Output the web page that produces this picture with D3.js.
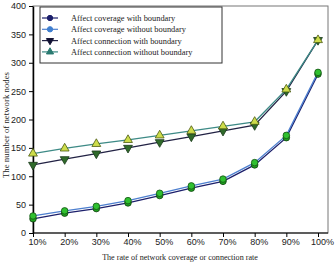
<!DOCTYPE html>
<html><head><meta charset="utf-8">
<script src="https://cdn.jsdelivr.net/npm/d3@7"></script>
<style>body{margin:0;background:#fff}svg{display:block}</style>
</head><body>
<svg id="c" width="336" height="264"></svg>
<script>
const categories = ["10%","20%","30%","40%","50%","60%","70%","80%","90%","100%"];
const coverageWith = [25,35,43,53,66,79,91,120,168,280];
const coverageWithout = [30,39,47,57,70,83,95,124,172,283];
const connectionWith = [120,130,140,150,160,170,180,190,250,340];
const connectionWithout = [140,149,157,164,172,180,188,196,253,340];
const yTicks = [0,50,100,150,200,250,300,350,400];
const seriesNames = ["Affect coverage with boundary","Affect coverage without boundary","Affect connection with boundary","Affect connection without boundary"];

const series = [
  {name:seriesNames[0], values:coverageWith, line:"#1c1f6b", sym:d3.symbolCircle, fill:"#1fa31f", stroke:"#0d3d0d", legFill:"#1c1f6b"},
  {name:seriesNames[1], values:coverageWithout, line:"#4d7fcf", sym:d3.symbolCircle, fill:"#2fc02f", stroke:"#145214", legFill:"#3f7fcf"},
  {name:seriesNames[2], values:connectionWith, line:"#222244", sym:"down", fill:"#2f6a2a", stroke:"#1a3a1a", legFill:"#111133"},
  {name:seriesNames[3], values:connectionWithout, line:"#3d8a86", sym:d3.symbolTriangle, fill:"#cddc4a", stroke:"#4a5a10", legFill:"#2a7a70"}
];

const svg = d3.select("#c");
const L=33, R=328, T=6, B=233;
const x = d3.scalePoint().domain(categories).range([L, 318]);
const y = d3.scaleLinear().domain([0,400]).range([B, T]);

svg.append("rect").attr("x",L).attr("y",T).attr("width",R-L).attr("height",B-T)
  .attr("fill","none").attr("stroke","#777").attr("stroke-width",1);

const ya = svg.append("g").attr("transform",`translate(${L},0)`)
  .call(d3.axisLeft(y).tickValues(yTicks).tickSize(4).tickSizeOuter(0));
ya.select(".domain").attr("stroke","#000").attr("stroke-width",1.5);
ya.selectAll("text").attr("font-family","Liberation Sans, Arial, sans-serif").attr("font-size",9).attr("fill","#222");
const xa = svg.append("g").attr("transform",`translate(0,${B})`)
  .call(d3.axisBottom(x).tickSize(4).tickSizeOuter(0));
xa.select(".domain").attr("stroke","#000").attr("stroke-width",1.2).attr("d",`M${L},0H${R}`);
xa.selectAll("text").attr("font-family","Liberation Sans, Arial, sans-serif").attr("font-size",9).attr("fill","#222").attr("dx",4).attr("dy",5);

const line = d3.line().x((d,i)=>x(categories[i])).y(d=>y(d));
function symPath(s,size){
  if(s==="down") return d3.symbol(d3.symbolTriangle,size)();
  return d3.symbol(s,size)();
}
series.forEach(s=>{
  svg.append("path").datum(s.values).attr("d",line).attr("fill","none").attr("stroke",s.line).attr("stroke-width",1.3);
});
series.forEach(s=>{
  svg.selectAll(null).data(s.values).enter().append("path")
    .attr("d",symPath(s.sym,34))
    .attr("transform",(d,i)=>`translate(${x(categories[i])},${y(d)})`+(s.sym==="down"?" rotate(180)":""))
    .attr("fill",s.fill).attr("stroke",s.stroke).attr("stroke-width",0.8);
});

const lg = svg.append("g");
lg.append("rect").attr("x",40).attr("y",7).attr("width",182).attr("height",56)
  .attr("fill","#fff").attr("stroke","#333").attr("stroke-width",1);
series.forEach((s,i)=>{
  const yy = 18 + i*11.3;
  lg.append("line").attr("x1",42).attr("x2",58).attr("y1",yy).attr("y2",yy).attr("stroke",s.line).attr("stroke-width",1.2);
  lg.append("path").attr("d",symPath(s.sym,22))
    .attr("transform",`translate(50,${yy})`+(s.sym==="down"?" rotate(180)":""))
    .attr("fill",s.legFill).attr("stroke",s.legFill);
  lg.append("text").attr("x",71).attr("y",yy+3).text(s.name)
    .attr("font-family","Liberation Serif, Times New Roman, serif").attr("font-size",8.4).attr("fill","#222");
});

svg.append("text").attr("transform","translate(9,125) rotate(-90)").attr("text-anchor","middle")
  .attr("font-family","Liberation Serif, Times New Roman, serif").attr("font-size",8.8).attr("fill","#222")
  .text("The number of network nodes");
svg.append("text").attr("x",180).attr("y",260).attr("text-anchor","middle")
  .attr("font-family","Liberation Serif, Times New Roman, serif").attr("font-size",8.1).attr("fill","#222")
  .text("The rate of network coverage or connection rate");
</script>
</body></html>
